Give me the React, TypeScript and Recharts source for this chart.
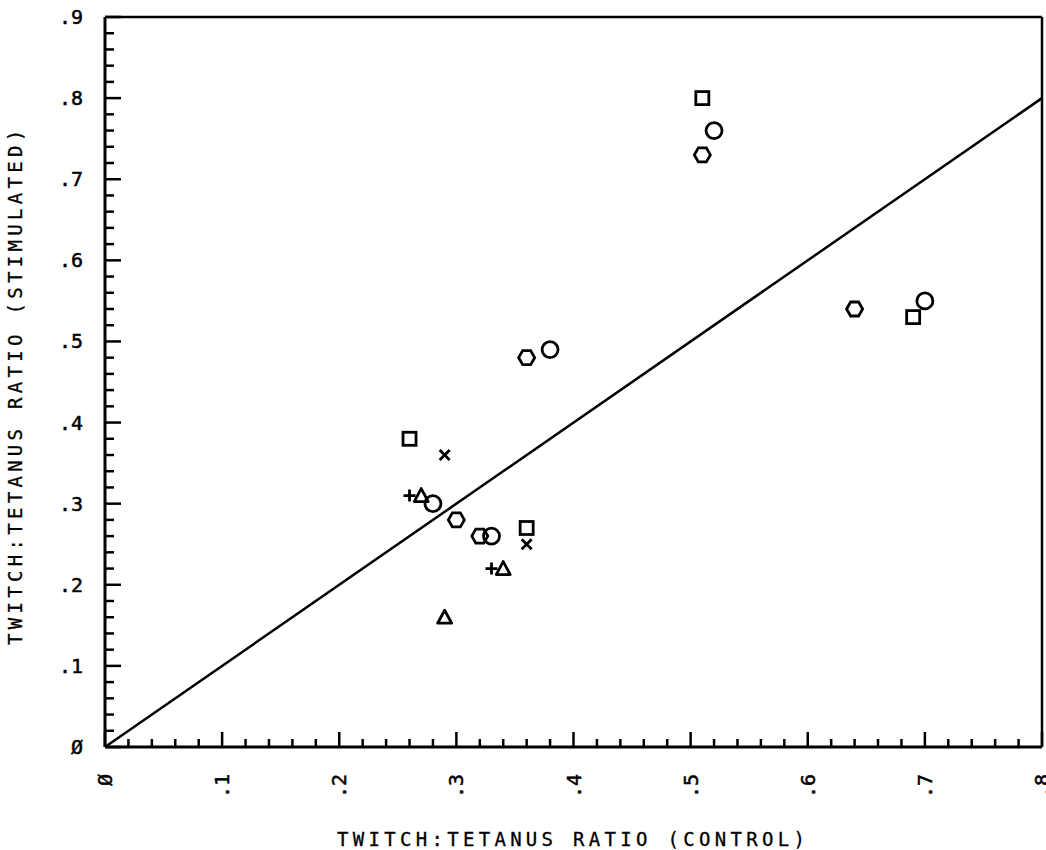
import { ScatterChart, Scatter, XAxis, YAxis, ReferenceLine } from "recharts";

const squares = [
  { x: 0.51, y: 0.8 },
  { x: 0.69, y: 0.53 },
  { x: 0.26, y: 0.38 },
  { x: 0.36, y: 0.27 },
];
const circles = [
  { x: 0.52, y: 0.76 },
  { x: 0.7, y: 0.55 },
  { x: 0.38, y: 0.49 },
  { x: 0.28, y: 0.3 },
  { x: 0.33, y: 0.26 },
];
const hexagons = [
  { x: 0.51, y: 0.73 },
  { x: 0.64, y: 0.54 },
  { x: 0.36, y: 0.48 },
  { x: 0.3, y: 0.28 },
  { x: 0.32, y: 0.26 },
];
const crosses = [
  { x: 0.29, y: 0.36 },
  { x: 0.36, y: 0.25 },
];
const pluses = [
  { x: 0.26, y: 0.31 },
  { x: 0.33, y: 0.22 },
];
const triangles = [
  { x: 0.27, y: 0.31 },
  { x: 0.34, y: 0.22 },
  { x: 0.29, y: 0.16 },
];
const fitLine = [
  { x: 0, y: 0 },
  { x: 0.8, y: 0.8 },
];

// minor ticks every .02, labelled every .1
const xTicks = Array.from({ length: 41 }, (_, i) => +(i * 0.02).toFixed(2));
const yTicks = Array.from({ length: 46 }, (_, i) => +(i * 0.02).toFixed(2));

const X_TITLE = "TWITCH:TETANUS RATIO (CONTROL)";
const Y_TITLE = "TWITCH:TETANUS RATIO (STIMULATED)";

const FONT = "'DejaVu Sans Mono', monospace";
const INK = "#000";
const SW = 2.8;

const isMajor = (v: number) => Math.abs(v * 10 - Math.round(v * 10)) < 1e-6;
const fmt = (v: number) => (v === 0 ? "Ø" : "." + Math.round(v * 10));

function XTick({ x, y, payload }: any) {
  const v = payload.value;
  const major = isMajor(v);
  const tx = x + 7;
  const ty = y + 27;
  return (
    <g>
      <line x1={x} x2={x} y1={y} y2={y - (major ? 15 : 8)} stroke={INK} strokeWidth={2.5} />
      {major && (
        <text x={tx} y={ty} transform={`rotate(-90 ${tx} ${ty})`} textAnchor="end" fontFamily={FONT} fontSize={20} fill={INK} stroke={INK} strokeWidth={0.5}>
          {fmt(v)}
        </text>
      )}
    </g>
  );
}

function YTick({ x, y, payload }: any) {
  const v = payload.value;
  const major = isMajor(v);
  return (
    <g>
      <line x1={x} x2={x + (major ? 16 : 9)} y1={y} y2={y} stroke={INK} strokeWidth={2.5} />
      {major && (
        <text x={x - 22} y={y + 7} textAnchor="end" fontFamily={FONT} fontSize={20} fill={INK} stroke={INK} strokeWidth={0.5}>
          {fmt(v)}
        </text>
      )}
    </g>
  );
}

const Square = ({ cx, cy }: any) => <rect x={cx - 6.5} y={cy - 6.5} width={13} height={13} fill="none" stroke={INK} strokeWidth={SW} />;
const Circle = ({ cx, cy }: any) => <circle cx={cx} cy={cy} r={8} fill="none" stroke={INK} strokeWidth={SW} />;
const Hexagon = ({ cx, cy }: any) => (
  <polygon
    points={`${cx - 8},${cy} ${cx - 4},${cy - 7} ${cx + 4},${cy - 7} ${cx + 8},${cy} ${cx + 4},${cy + 7} ${cx - 4},${cy + 7}`}
    fill="none"
    stroke={INK}
    strokeWidth={SW}
  />
);
const Triangle = ({ cx, cy }: any) => (
  <polygon points={`${cx},${cy - 7} ${cx + 7},${cy + 6} ${cx - 7},${cy + 6}`} fill="none" stroke={INK} strokeWidth={SW} strokeLinejoin="round" />
);
const Plus = ({ cx, cy }: any) => (
  <path d={`M${cx - 6},${cy}H${cx + 6}M${cx},${cy - 6}V${cy + 6}`} stroke={INK} strokeWidth={SW} />
);
const Cross = ({ cx, cy }: any) => (
  <path d={`M${cx - 5},${cy - 5}L${cx + 5},${cy + 5}M${cx + 5},${cy - 5}L${cx - 5},${cy + 5}`} stroke={INK} strokeWidth={SW} />
);

const XTitle = ({ viewBox }: any) => (
  <text x={337} y={viewBox.y + viewBox.height - 4} fontFamily={FONT} fontSize={19} letterSpacing={4.3} fill={INK} stroke={INK} strokeWidth={0.3}>
    {X_TITLE}
  </text>
);
const YTitle = () => (
  <text x={22} y={645} transform="rotate(-90 22 645)" fontFamily={FONT} fontSize={19} letterSpacing={4.3} fill={INK} stroke={INK} strokeWidth={0.3}>
    {Y_TITLE}
  </text>
);

export default function App() {
  return (
    <div style={{ position: "absolute", left: 0, top: 0, background: "#fff" }}>
      <ScatterChart width={1046} height={850} margin={{ top: 17, right: 4, left: 0, bottom: 0 }}>
        <XAxis
          type="number"
          dataKey="x"
          domain={[0, 0.8]}
          ticks={xTicks}
          interval={0}
          tickSize={0}
          tickMargin={0}
          height={103}
          tick={<XTick />}
          axisLine={{ stroke: INK, strokeWidth: 3 }}
          label={<XTitle />}
        />
        <YAxis
          type="number"
          dataKey="y"
          domain={[0, 0.9]}
          ticks={yTicks}
          interval={0}
          tickSize={0}
          tickMargin={0}
          width={105}
          tick={<YTick />}
          axisLine={{ stroke: INK, strokeWidth: 3 }}
          label={<YTitle />}
        />
        <ReferenceLine y={0.9} stroke={INK} strokeWidth={2.5} />
        <ReferenceLine x={0.8} stroke={INK} strokeWidth={2.5} />
        <ReferenceLine segment={fitLine} stroke={INK} strokeWidth={2.5} />
        <Scatter data={squares} shape={<Square />} isAnimationActive={false} />
        <Scatter data={circles} shape={<Circle />} isAnimationActive={false} />
        <Scatter data={hexagons} shape={<Hexagon />} isAnimationActive={false} />
        <Scatter data={crosses} shape={<Cross />} isAnimationActive={false} />
        <Scatter data={pluses} shape={<Plus />} isAnimationActive={false} />
        <Scatter data={triangles} shape={<Triangle />} isAnimationActive={false} />
      </ScatterChart>
    </div>
  );
}
